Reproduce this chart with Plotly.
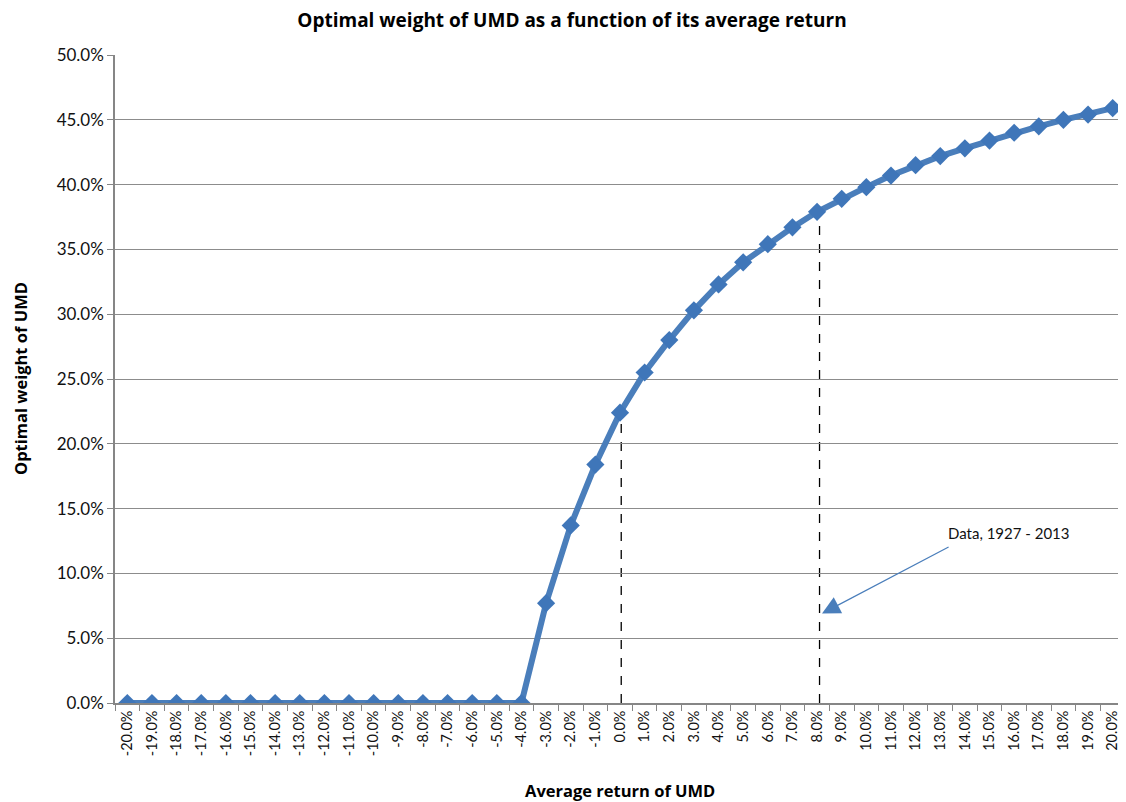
import plotly.graph_objects as go

returns = list(range(-20, 21))
weights = [0, 0, 0, 0, 0, 0, 0, 0, 0, 0, 0, 0, 0, 0, 0, 0, 0,
           7.7, 13.7, 18.4, 22.4, 25.5, 28.0, 30.3, 32.3, 34.0, 35.4, 36.7,
           37.9, 38.9, 39.8, 40.7, 41.5, 42.2, 42.8, 43.4, 44.0, 44.5, 45.0, 45.4, 45.9]
tick_labels = [f"{r:.1f}%" for r in returns]
y_ticks = [i * 5 for i in range(11)]
y_labels = [f"{v:.1f}%" for v in y_ticks]
marked_returns = [0, 8]
data_label = "Data, 1927 - 2013"

FONT = "Lato, Carlito, Calibri, sans-serif"
BFONT = "'Open Sans', sans-serif"
BLUE = "#4A7EBB"
TXT = "#111111"

W, H = 1118, 794
ML, MR, MT, MB = 107, 1, 47, 99
PW, PH = W - ML - MR, H - MT - MB

fig = go.Figure()
fig.add_trace(go.Scatter(
    x=returns, y=weights, mode="lines+markers",
    line=dict(color=BLUE, width=6),
    marker=dict(symbol="diamond", size=14, color="#3F76B9"),
    showlegend=False, hoverinfo="skip"))

offsets = [0.05, 0.1]
for r, off in zip(marked_returns, offsets):
    yv = weights[returns.index(r)]
    fig.add_shape(type="line", x0=r + off, x1=r + off, y0=0, y1=yv,
                  xref="x", yref="y", line=dict(color="black", width=1.3, dash="dash"), layer="below")

fig.add_annotation(x=8.2, y=6.9, ax=13.4, ay=12.1, xref="x", yref="y", axref="x", ayref="y",
                   text="", showarrow=True, arrowhead=2, arrowsize=3, arrowwidth=1.2,
                   arrowcolor=BLUE)
fig.add_annotation(x=15.8, y=13.1, xref="x", yref="y", text=data_label, showarrow=False,
                   font=dict(family=FONT, size=15, color=TXT))

# axis titles
fig.add_annotation(x=(12 - ML) / PW, y=0.5, xref="paper", yref="paper", textangle=-90,
                   text="<b>Optimal weight of UMD</b>", showarrow=False,
                   xanchor="center", yanchor="middle",
                   font=dict(family=BFONT, size=16.5, color="black"))
fig.add_annotation(x=(612 - ML) / PW, y=(H - MB - 782) / PH, xref="paper", yref="paper",
                   text="<b>Average return of UMD</b>", showarrow=False,
                   xanchor="center", yanchor="middle",
                   font=dict(family=BFONT, size=16.5, color="black"))

fig.update_layout(
    width=W, height=H,
    margin=dict(l=ML, r=MR, t=MT, b=MB),
    paper_bgcolor="white", plot_bgcolor="white",
    title=dict(text="<b>Optimal weight of UMD as a function of its average return</b>",
               x=564 / W, xanchor="center", y=1 - 12 / H, yanchor="middle",
               font=dict(family=BFONT, size=19, color="black")),
    font=dict(family=FONT, size=14, color=TXT),
)
fig.update_xaxes(
    range=[-20.5, 20.5], tickmode="array", tickvals=returns, ticktext=tick_labels,
    tickangle=-90, ticks="", showgrid=False, zeroline=False,
    showline=True, linecolor="#868686", linewidth=1.5,
    minor=dict(tickvals=[r + 0.5 for r in returns[:-1]] + [-20.5], ticks="outside",
               ticklen=6, tickcolor="#868686", showgrid=False),
    tickfont=dict(family=FONT, size=14.5, color=TXT),
)
fig.update_yaxes(
    range=[0, 50], tickmode="array", tickvals=y_ticks, ticktext=y_labels,
    showgrid=True, gridcolor="#8C8C8C", gridwidth=1, zeroline=False,
    showline=True, linecolor="#868686", linewidth=1.5,
    ticks="outside", ticklen=6, tickcolor="#868686",
    tickfont=dict(family=FONT, size=17, color=TXT),
)

fig.write_html("out.html")
